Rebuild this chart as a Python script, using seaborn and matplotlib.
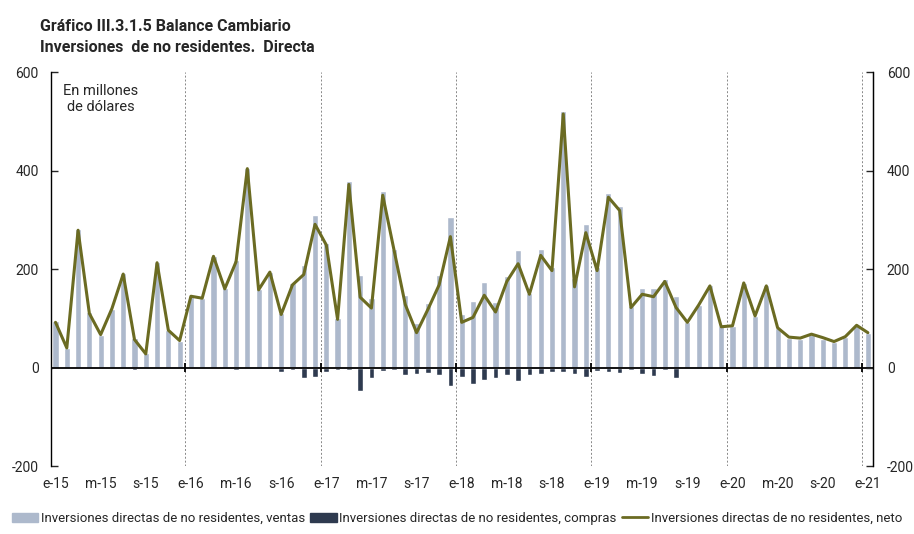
import numpy as np
import pandas as pd
import matplotlib
matplotlib.use('Agg')
import matplotlib.pyplot as plt
from matplotlib.patches import Patch
from matplotlib.lines import Line2D
import seaborn as sns

# Monthly data, Jan-2015 to Jan-2021 (millones de dólares)
ventas = [94, 40, 281, 112, 67, 120, 192, 61, 30, 214, 77, 55,
          145, 141, 226, 162, 219, 406, 160, 195, 111, 172, 209, 310,
          254, 101, 378, 189, 141, 358, 241, 148, 91, 131, 189, 306,
          109, 136, 173, 133, 187, 238, 152, 241, 204, 522, 182, 291,
          205, 355, 329, 125, 161, 161, 180, 146, 92, 127, 167, 85,
          85, 172, 105, 167, 81, 61, 59, 68, 59, 53, 63, 86,
          71]
compras = [-3, 0, 0, 0, 0, 0, 0, -5, 0, 0, 0, 0,
           0, 0, 0, 0, -5, -2, 0, 0, -8, -5, -20, -18,
           -9, -5, -5, -47, -20, -7, -5, -15, -13, -11, -15, -38,
           -18, -34, -25, -20, -15, -27, -15, -13, -8, -8, -12, -18,
           -7, -9, -10, -5, -12, -16, -5, -22, 0, 0, 0, 0,
           0, 0, 0, 0, 0, 0, 0, 0, 0, 0, 0, 0,
           0]
neto = [92, 40, 279, 110, 67, 120, 190, 57, 28, 213, 76, 55,
        145, 141, 226, 160, 215, 404, 158, 194, 108, 168, 189, 291,
        249, 98, 372, 143, 121, 350, 239, 128, 71, 118, 168, 266,
        92, 102, 147, 113, 175, 211, 149, 228, 197, 515, 164, 274,
        197, 346, 319, 122, 149, 144, 175, 122, 92, 127, 166, 83,
        85, 172, 105, 166, 81, 62, 60, 68, 61, 53, 63, 86,
        71]
years = ['15', '16', '17', '18', '19', '20', '21']
month_letters = ['e', 'm', 's']

df = pd.DataFrame({'pos': np.arange(len(ventas)), 'ventas': ventas,
                   'compras': compras, 'neto': neto})

c_ventas = '#adb9cc'
c_compras = '#2e3a4f'
c_neto = '#6b6b22'

sns.set_style('white')
plt.rcParams['font.family'] = ['Roboto', 'DejaVu Sans']

fig = plt.figure(figsize=(9.14, 5.34), dpi=100)
ax = fig.add_axes([0.0558, 0.127, 0.8993, 0.738])

sns.barplot(data=df, x='pos', y='ventas', native_scale=True, color=c_ventas,
            width=0.55, saturation=1, ax=ax, zorder=2)
sns.barplot(data=df, x='pos', y='compras', native_scale=True, color=c_compras,
            width=0.5, saturation=1, ax=ax, zorder=2)
sns.lineplot(data=df, x='pos', y='neto', color=c_neto, linewidth=2.2, ax=ax, zorder=3)

n = len(ventas)
ax.set_xlim(-0.4, n - 1 + 0.45)
ax.set_ylim(-200, 600)

# year separators
bounds = np.arange(11.5, n, 12)
for b in bounds:
    ax.axvline(b, color='#888888', linestyle=(0, (2, 2)), linewidth=0.7, zorder=1)
ax.axhline(0, color='black', linewidth=1.3, zorder=4)
ax.vlines(bounds, -9, 9, color='black', linewidth=1.3, zorder=4)

# x labels every 4 months
xt = np.arange(0, n, 4)
labels = [f'{month_letters[(i % 12) // 4]}-{years[i // 12]}' for i in xt]
ax.set_xticks(xt)
ax.set_xticklabels(labels, fontsize=10)
ax.tick_params(axis='x', length=0, pad=8)
ax.set_xlabel('')
ax.set_ylabel('')

yt = [-200, 0, 200, 400, 600]
ax.set_yticks(yt)
ax.set_yticklabels([str(v) for v in yt], fontsize=10)
ax.tick_params(axis='y', direction='in', length=5, width=1, pad=9)

for s in ['top', 'bottom']:
    ax.spines[s].set_visible(False)
ax.spines['left'].set_color('black')
ax.spines['left'].set_linewidth(1)

ax2 = ax.twinx()
ax2.set_ylim(-200, 600)
ax2.set_yticks(yt)
ax2.set_yticklabels([str(v) for v in yt], fontsize=10)
ax2.tick_params(axis='y', direction='in', length=5, width=1, pad=10)
for s in ['top', 'bottom', 'left']:
    ax2.spines[s].set_visible(False)
ax2.spines['right'].set_color('black')
ax2.spines['right'].set_linewidth(1)

ax.text(0.06, 0.97, 'En millones\nde dólares', transform=ax.transAxes,
        ha='center', va='top', fontsize=10.5, multialignment='center')

fig.text(0.044, 0.965, 'Gráfico III.3.1.5 Balance Cambiario', fontsize=11.5,
         fontweight='bold', va='top')
fig.text(0.044, 0.925, 'Inversiones  de no residentes.  Directa', fontsize=11.5,
         fontweight='bold', va='top')

handles = [Patch(color=c_ventas), Patch(color=c_compras),
           Line2D([0], [0], color=c_neto, linewidth=2)]
names = ['Inversiones directas de no residentes, ventas',
         'Inversiones directas de no residentes, compras',
         'Inversiones directas de no residentes, neto']
fig.legend(handles, names, loc='lower center', bbox_to_anchor=(0.5, -0.005),
           ncol=3, frameon=False, fontsize=9.5, handlelength=2.0,
           handletextpad=0.2, columnspacing=0.4)

fig.savefig('out.png', dpi=100)
